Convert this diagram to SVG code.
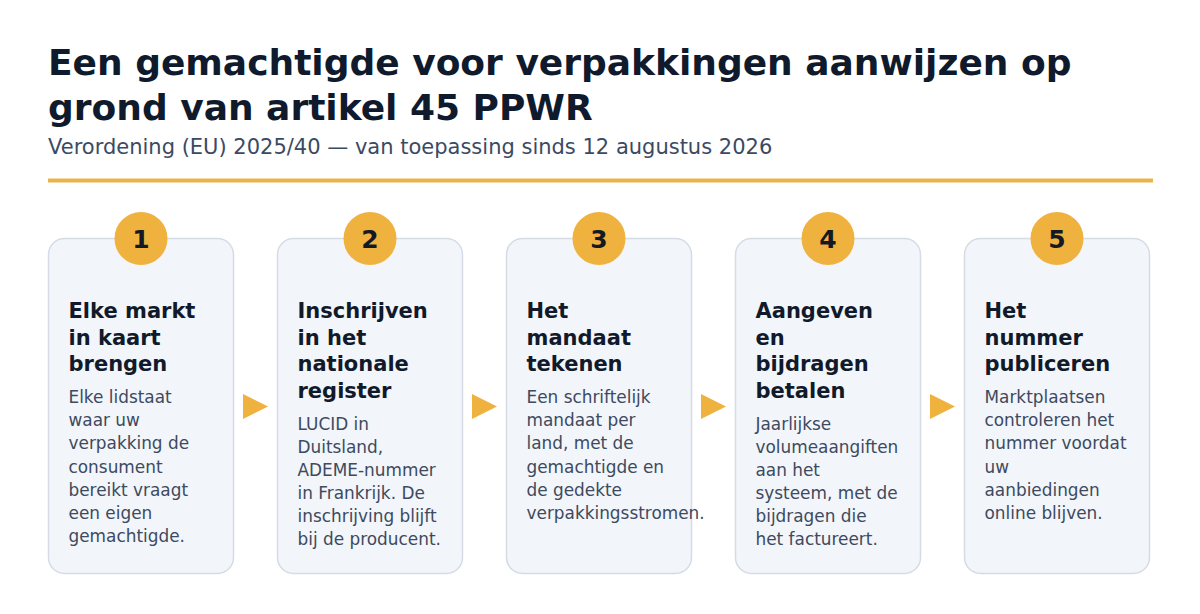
<svg xmlns="http://www.w3.org/2000/svg" width="1200" height="614" viewBox="0 0 1200 614">
<style>
.title{font-family:"DejaVu Sans",sans-serif;font-weight:bold;font-size:36px;fill:#0f1b2d}
.sub{font-family:"DejaVu Sans",sans-serif;font-size:21px;fill:#3b4a63}
.card{fill:#f2f5f9;stroke:#d5dce6;stroke-width:1.5}
.dot{fill:#f0b23f}
.num{font-family:"DejaVu Sans",sans-serif;font-weight:bold;font-size:25px;fill:#141a24;text-anchor:middle}
.ct{font-family:"DejaVu Sans",sans-serif;font-weight:bold;font-size:21px;fill:#111a2b}
.cb{font-family:"DejaVu Sans",sans-serif;font-size:16.9px;fill:#3d4a5f}
.arr{fill:#f0b23f}
</style>
<rect width="1200" height="614" fill="#ffffff"/>
<text class="title" x="48" y="74.5">Een gemachtigde voor verpakkingen aanwijzen op</text>
<text class="title" x="48" y="119.5">grond van artikel 45 PPWR</text>
<text class="sub" x="48" y="154">Verordening (EU) 2025/40 — van toepassing sinds 12 augustus 2026</text>
<rect x="48" y="178.5" width="1105" height="4" fill="#e9b44c"/>
<g id="connectors">
<polygon class="arr" points="243,394 268,406.5 243,419"/>
<polygon class="arr" points="472,394 497,406.5 472,419"/>
<polygon class="arr" points="701,394 726,406.5 701,419"/>
<polygon class="arr" points="930,394 955,406.5 930,419"/>
</g>
<g id="step1">
<rect class="card" x="48.5" y="238.5" width="185" height="335" rx="16"/>
<circle class="dot" cx="141" cy="238.5" r="26.5"/>
<text class="num" x="141" y="247.5">1</text>
<text class="ct" x="68.5" y="317.5">Elke markt</text>
<text class="ct" x="68.5" y="344.5">in kaart</text>
<text class="ct" x="68.5" y="371">brengen</text>
<text class="cb" x="68.5" y="403.3">Elke lidstaat</text>
<text class="cb" x="68.5" y="426.4">waar uw</text>
<text class="cb" x="68.5" y="449.4">verpakking de</text>
<text class="cb" x="68.5" y="472.5">consument</text>
<text class="cb" x="68.5" y="495.6">bereikt vraagt</text>
<text class="cb" x="68.5" y="518.6">een eigen</text>
<text class="cb" x="68.5" y="541.7">gemachtigde.</text>
</g>
<g id="step2">
<rect class="card" x="277.5" y="238.5" width="185" height="335" rx="16"/>
<circle class="dot" cx="370" cy="238.5" r="26.5"/>
<text class="num" x="370" y="247.5">2</text>
<text class="ct" x="297.5" y="317.5">Inschrijven</text>
<text class="ct" x="297.5" y="344.5">in het</text>
<text class="ct" x="297.5" y="371">nationale</text>
<text class="ct" x="297.5" y="398">register</text>
<text class="cb" x="297.5" y="430">LUCID in</text>
<text class="cb" x="297.5" y="453">Duitsland,</text>
<text class="cb" x="297.5" y="476">ADEME-nummer</text>
<text class="cb" x="297.5" y="499">in Frankrijk. De</text>
<text class="cb" x="297.5" y="522">inschrijving blijft</text>
<text class="cb" x="297.5" y="545">bij de producent.</text>
</g>
<g id="step3">
<rect class="card" x="506.5" y="238.5" width="185" height="335" rx="16"/>
<circle class="dot" cx="599" cy="238.5" r="26.5"/>
<text class="num" x="599" y="247.5">3</text>
<text class="ct" x="526.5" y="317.5">Het</text>
<text class="ct" x="526.5" y="344.5">mandaat</text>
<text class="ct" x="526.5" y="371">tekenen</text>
<text class="cb" x="526.5" y="403.3">Een schriftelijk</text>
<text class="cb" x="526.5" y="426.4">mandaat per</text>
<text class="cb" x="526.5" y="449.4">land, met de</text>
<text class="cb" x="526.5" y="472.5">gemachtigde en</text>
<text class="cb" x="526.5" y="495.6">de gedekte</text>
<text class="cb" x="526.5" y="518.6">verpakkingsstromen.</text>
</g>
<g id="step4">
<rect class="card" x="735.5" y="238.5" width="185" height="335" rx="16"/>
<circle class="dot" cx="828" cy="238.5" r="26.5"/>
<text class="num" x="828" y="247.5">4</text>
<text class="ct" x="755.5" y="317.5">Aangeven</text>
<text class="ct" x="755.5" y="344.5">en</text>
<text class="ct" x="755.5" y="371">bijdragen</text>
<text class="ct" x="755.5" y="398">betalen</text>
<text class="cb" x="755.5" y="430">Jaarlijkse</text>
<text class="cb" x="755.5" y="453">volumeaangiften</text>
<text class="cb" x="755.5" y="476">aan het</text>
<text class="cb" x="755.5" y="499">systeem, met de</text>
<text class="cb" x="755.5" y="522">bijdragen die</text>
<text class="cb" x="755.5" y="545">het factureert.</text>
</g>
<g id="step5">
<rect class="card" x="964.5" y="238.5" width="185" height="335" rx="16"/>
<circle class="dot" cx="1057" cy="238.5" r="26.5"/>
<text class="num" x="1057" y="247.5">5</text>
<text class="ct" x="984.5" y="317.5">Het</text>
<text class="ct" x="984.5" y="344.5">nummer</text>
<text class="ct" x="984.5" y="371">publiceren</text>
<text class="cb" x="984.5" y="403.3">Marktplaatsen</text>
<text class="cb" x="984.5" y="426.4">controleren het</text>
<text class="cb" x="984.5" y="449.4">nummer voordat</text>
<text class="cb" x="984.5" y="472.5">uw</text>
<text class="cb" x="984.5" y="495.6">aanbiedingen</text>
<text class="cb" x="984.5" y="518.6">online blijven.</text>
</g>
</svg>
